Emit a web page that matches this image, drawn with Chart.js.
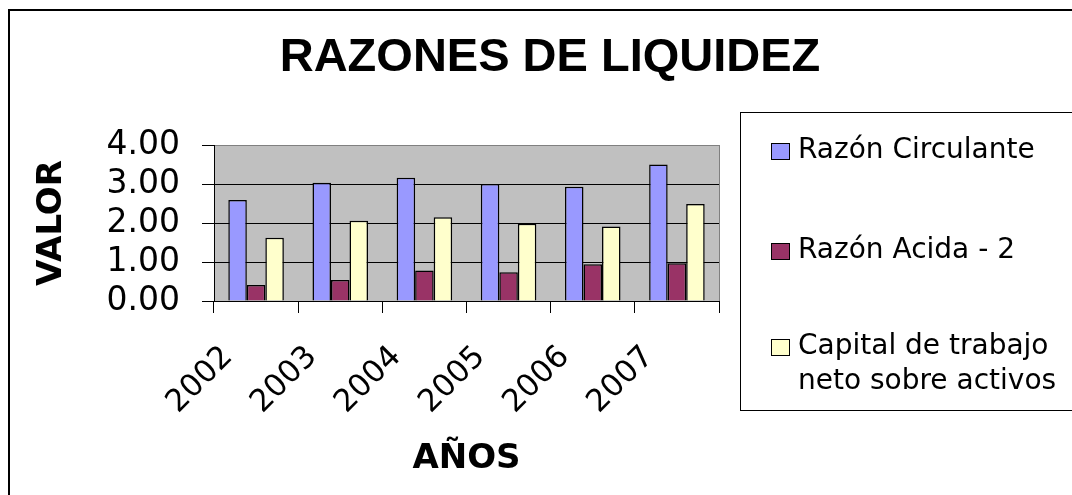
<!DOCTYPE html>
<html>
<head>
<meta charset="utf-8">
<script src="https://cdn.jsdelivr.net/npm/chart.js@4.4.1/dist/chart.umd.min.js"></script>
<style>
  html, body { margin: 0; padding: 0; background: #fff; }
</style>
</head>
<body>
<canvas id="chartLiquidez" width="1072" height="495"></canvas>
<script>
// datos
const anios = ["2002", "2003", "2004", "2005", "2006", "2007"];
const razonCirculante = [2.59, 3.03, 3.16, 3.00, 2.93, 3.50];
const razonAcida = [0.41, 0.54, 0.78, 0.74, 0.94, 0.97];
const capitalTrabajo = [1.62, 2.06, 2.15, 1.98, 1.91, 2.49];
const ticksValor = ["0.00", "1.00", "2.00", "3.00", "4.00"];
const nombres = ["Razón Circulante", "Razón Acida - 2", ["Capital de trabajo", "neto sobre activos"]];

const fuente = "'DejaVu Sans', sans-serif";

// fondo gris, marco, titulo y leyenda estilo Excel
const marcoExcel = {
    id: "marcoExcel",
    beforeDraw(chart) {
        const { ctx, chartArea: a } = chart;
        ctx.save();
        ctx.fillStyle = "#c0c0c0";
        ctx.fillRect(a.left, a.top, a.right - a.left, a.bottom - a.top);
        ctx.restore();
    },
    afterDraw(chart) {
        const { ctx, chartArea: a } = chart;
        ctx.save();
        // borde derecho del area de trazado
        ctx.strokeStyle = "#808080";
        ctx.lineWidth = 1;
        ctx.beginPath();
        ctx.moveTo(a.right + 0.5, a.top);
        ctx.lineTo(a.right + 0.5, a.bottom);
        ctx.stroke();

        // marco exterior
        ctx.strokeStyle = "#000";
        ctx.lineWidth = 2;
        ctx.beginPath();
        ctx.moveTo(9, 495);
        ctx.lineTo(9, 10);
        ctx.lineTo(1072, 10);
        ctx.stroke();

        // titulo
        ctx.fillStyle = "#000";
        ctx.font = "bold 47px 'Liberation Sans', Arial, sans-serif";
        ctx.textAlign = "center";
        ctx.textBaseline = "middle";
        ctx.fillText("RAZONES DE LIQUIDEZ", 550, 58);

        // leyenda
        ctx.lineWidth = 1;
        ctx.strokeRect(740.5, 112.5, 340, 298);
        const filas = [151, 251, 347];
        ctx.font = "28px " + fuente;
        ctx.textAlign = "left";
        chart.data.datasets.forEach((ds, i) => {
            const y = filas[i];
            ctx.fillStyle = ds.backgroundColor;
            ctx.fillRect(771, y - 8, 18, 16);
            ctx.strokeStyle = "#000";
            ctx.strokeRect(771.5, y - 7.5, 18, 16);
            ctx.fillStyle = "#000";
            const lineas = Array.isArray(ds.label) ? ds.label : [ds.label];
            lineas.forEach((t, j) => ctx.fillText(t, 798, y + j * 35));
        });
        ctx.restore();
    }
};

new Chart(document.getElementById("chartLiquidez"), {
    type: "bar",
    data: {
        labels: anios,
        datasets: [
            { label: nombres[0], data: razonCirculante, backgroundColor: "#9999ff" },
            { label: nombres[1], data: razonAcida, backgroundColor: "#993366" },
            { label: nombres[2], data: capitalTrabajo, backgroundColor: "#ffffcc" }
        ]
    },
    options: {
        responsive: false,
        animation: false,
        layout: { padding: { left: 0, top: 145, right: 353, bottom: 0 } },
        datasets: {
            bar: {
                borderColor: "#000",
                borderWidth: 1.5,
                barPercentage: 1,
                categoryPercentage: 0.66
            }
        },
        plugins: {
            legend: { display: false },
            title: { display: false },
            tooltip: { enabled: false }
        },
        scales: {
            x: {
                afterFit: (s) => { s.height = 194; },
                grid: {
                    offset: true,
                    drawOnChartArea: false,
                    drawTicks: true,
                    tickLength: 12,
                    tickColor: "#000"
                },
                border: { color: "#000", width: 1 },
                ticks: {
                    color: "#000",
                    font: { family: fuente, size: 31 },
                    minRotation: 45,
                    maxRotation: 45,
                    autoSkip: false,
                    padding: 26,
                    labelOffset: -28
                },
                title: {
                    display: true,
                    text: "AÑOS",
                    color: "#000",
                    font: { family: fuente, size: 34, weight: "bold" },
                    padding: { top: 0, bottom: 15 }
                }
            },
            y: {
                min: 0,
                max: 4,
                afterFit: (s) => { s.width = 214; },
                grid: {
                    color: (c) => (c.tick && c.tick.value === 4 ? "#808080" : "#000"),
                    tickColor: "#000",
                    tickLength: 12
                },
                border: { color: "#000", width: 1 },
                ticks: {
                    stepSize: 1,
                    autoSkip: false,
                    color: "#000",
                    font: { family: fuente, size: 33 },
                    padding: 22,
                    callback: (v) => ticksValor[v]
                },
                title: {
                    display: true,
                    text: "VALOR",
                    color: "#000",
                    font: { family: fuente, size: 34, weight: "bold" },
                    padding: { top: 32, bottom: 0 }
                }
            }
        }
    },
    plugins: [marcoExcel]
});
</script>
</body>
</html>
